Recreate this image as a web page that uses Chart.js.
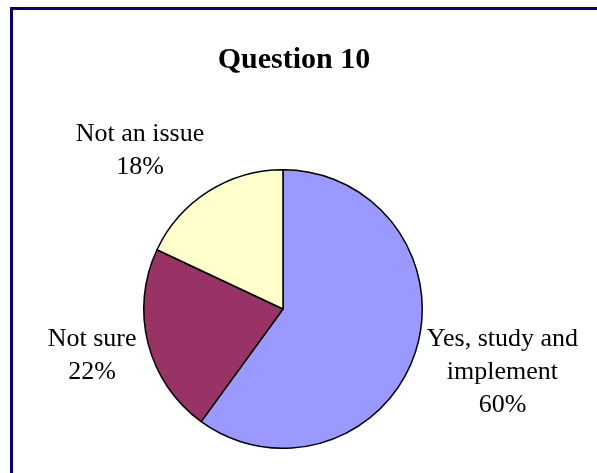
<!DOCTYPE html>
<html>
<head>
<meta charset="utf-8">
<script src="https://cdn.jsdelivr.net/npm/chart.js@4"></script>
<style>
  body { margin: 0; background: #fff; overflow: hidden; }
  #wrap { position: relative; width: 597px; height: 473px; overflow: hidden; }
  #frame { position: absolute; left: 10px; top: 7px; width: 640px; height: 520px; border: 3px solid #000080; pointer-events: none; }
  #questionChart { position: absolute; left: 0; top: 0; }
</style>
</head>
<body>
<div id="wrap">
  <canvas id="questionChart" width="597" height="473"></canvas>
  <div id="frame"></div>
</div>
<script>
let chartTitle = 'Question 10';
let categories = [['Yes, study and', 'implement'], ['Not sure'], ['Not an issue']];
let percents = [60, 22, 18];
let sliceColors = ['#9999FF', '#993366', '#FFFFCC'];

let questionChart = document.querySelector('#questionChart');

// Title + outside labels, roughly the way Excel puts them
let pieText = {
  id: 'pieText',
  afterDraw(chart) {
    let ctx = chart.ctx;
    ctx.save();
    ctx.fillStyle = '#000';
    ctx.textAlign = 'center';
    ctx.textBaseline = 'alphabetic';
    ctx.font = 'bold 30px "Liberation Serif", serif';
    ctx.fillText(chartTitle, 294, 68);

    ctx.font = '26px "Liberation Serif", serif';
    ctx.textBaseline = 'middle';
    let lineH = 33;
    let arcs = chart.getDatasetMeta(0).data;
    for (let i = 0; i < arcs.length; i++) {
      let arc = arcs[i];
      let lines = categories[i].concat([percents[i] + '%']);
      let w = 0;
      for (let j = 0; j < lines.length; j++) {
        w = Math.max(w, ctx.measureText(lines[j]).width);
      }
      let h = lines.length * lineH;
      let mid = (arc.startAngle + arc.endAngle) / 2;
      let cos = Math.cos(mid), sin = Math.sin(mid);
      let r = arc.outerRadius + 12;
      let px = arc.x + r * cos;
      let py = arc.y + r * sin;
      let kx = Math.max(-1, Math.min(1, cos * 1.8));
      let ky = Math.max(-1, Math.min(1, sin * 1.1));
      let cx = px + kx * w / 2;
      let cy = py + ky * h / 2;
      for (let j = 0; j < lines.length; j++) {
        ctx.fillText(lines[j], cx, cy - h / 2 + lineH / 2 + j * lineH);
      }
    }
    ctx.restore();
  }
};

let chart = new Chart(questionChart, {
  type: 'pie',
  data: {
    labels: categories.map(function (c) { return c.join(' '); }),
    datasets: [{
      data: percents,
      backgroundColor: sliceColors,
      borderColor: '#000',
      borderWidth: 1.5
    }]
  },
  options: {
    responsive: false,
    animation: false,
    layout: {
      padding: { left: 143, right: 174, top: 169, bottom: 24 }
    },
    plugins: {
      legend: { display: false },
      tooltip: { enabled: false },
      title: { display: false }
    }
  },
  plugins: [pieText]
});
</script>
</body>
</html>
